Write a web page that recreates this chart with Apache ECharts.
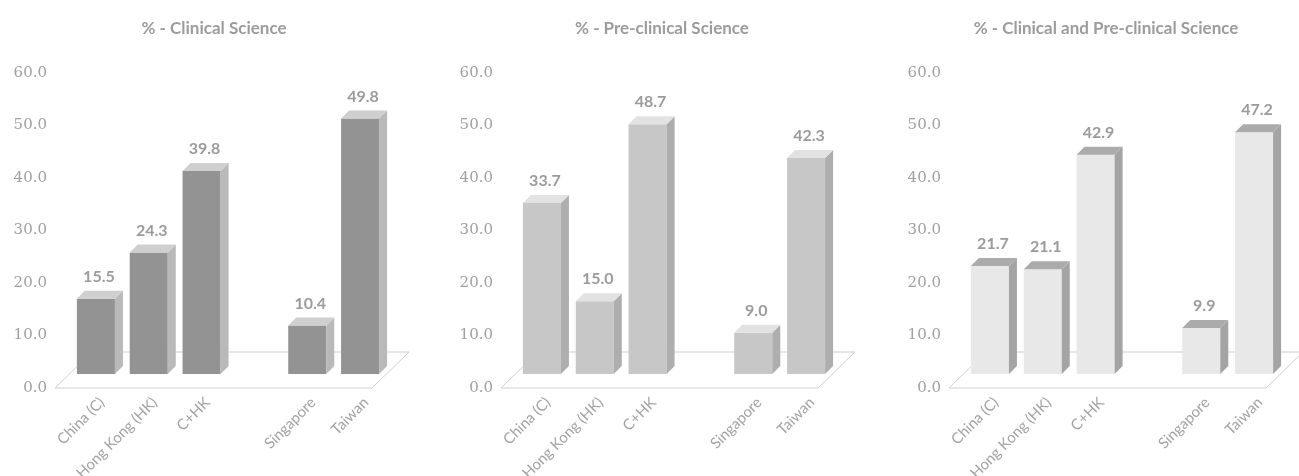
<!DOCTYPE html>
<html>
<head>
<meta charset="utf-8">
<script src="https://cdn.jsdelivr.net/npm/echarts@6/dist/echarts.min.js"></script>
<style>
  html, body { margin: 0; padding: 0; background: #fff; }
  #chart { width: 1299px; height: 476px; }
</style>
</head>
<body>
<div id="chart"></div>
<script>
// categories (the empty one is the gap between C+HK and Singapore)
var categories = ['China (C)', 'Hong Kong (HK)', 'C+HK', '', 'Singapore', 'Taiwan'];
var yTicks = [0, 10, 20, 30, 40, 50, 60];

var titles = ['% - Clinical Science', '% - Pre-clinical Science', '% - Clinical and Pre-clinical Science'];
var clinical = [15.5, 24.3, 39.8, null, 10.4, 49.8];
var preclinical = [33.7, 15.0, 48.7, null, 9.0, 42.3];
var combined = [21.7, 21.1, 42.9, null, 9.9, 47.2];

// layout / look of each panel
var panels = [
  { data: clinical, left: 55, titleX: 209, front: '#939393', side: '#b9b9b9', top: '#cfcfcf' },
  { data: preclinical, left: 501, titleX: 657, front: '#c7c7c7', side: '#aeaeae', top: '#e2e2e2' },
  { data: combined, left: 949, titleX: 1101, front: '#e8e8e8', side: '#a4a4a4', top: '#ababab' }
];

var txtColor = '#a3a3a3';
var labelFont = 'Lato, "Open Sans", sans-serif';

function makeFloor() {
  return function (params, api) {
    var cs = params.coordSys;
    var x = cs.x, y = cs.y + cs.height, w = cs.width;
    return {
      type: 'polygon',
      shape: { points: [[x, y], [x + w, y], [x + w + 37, y - 36], [x + 37, y - 36]] },
      style: { fill: 'none', stroke: '#cfcfcf', lineWidth: 1 }
    };
  };
}

function makeBar(p) {
  return function (params, api) {
    var i = api.value(0), v = api.value(1);
    var base = api.coord([i, 0]);
    var topPt = api.coord([i, v]);
    var band = api.size([1, 0])[0];
    var w = band * 0.72;
    var cx = base[0] + 14.5;
    var x0 = cx - w / 2, x1 = cx + w / 2;
    var yb = base[1] - 14, yt = topPt[1] - 8;
    var d = 8;
    return {
      type: 'group',
      children: [
        { type: 'rect', shape: { x: x0, y: yt, width: w, height: yb - yt }, style: { fill: p.front } },
        { type: 'polygon', shape: { points: [[x1, yt], [x1 + d, yt - d], [x1 + d, yb - d], [x1, yb]] }, style: { fill: p.side } },
        { type: 'polygon', shape: { points: [[x0, yt], [x0 + d, yt - d], [x1 + d, yt - d], [x1, yt]] }, style: { fill: p.top } },
        { type: 'text', x: cx + 3, y: yt - 22,
          style: { text: v.toFixed(1), fill: '#9b9b9b', font: 'bold 16px ' + labelFont, align: 'center', verticalAlign: 'middle' } },
        { type: 'text', x: cx + 6, y: base[1] + 12, rotation: Math.PI / 4,
          style: { text: categories[i], fill: txtColor, font: '15px ' + labelFont, align: 'right', verticalAlign: 'middle' } }
      ]
    };
  };
}

var chart = echarts.init(document.getElementById('chart'), null, { renderer: 'canvas' });
var option = { animation: false, title: [], grid: [], xAxis: [], yAxis: [], series: [] };

panels.forEach(function (p, k) {
  option.title.push({
    text: titles[k], left: p.titleX, top: 15, textAlign: 'center',
    textStyle: { color: '#9c9c9c', fontSize: 17, fontWeight: 'bold', fontFamily: labelFont }
  });
  option.grid.push({ left: p.left, top: 73, width: 317, height: 315 });
  option.xAxis.push({
    type: 'category', gridIndex: k, data: categories, boundaryGap: true,
    axisLine: { show: false }, axisTick: { show: false }, axisLabel: { show: false }
  });
  option.yAxis.push({
    type: 'value', gridIndex: k, min: yTicks[0], max: yTicks[yTicks.length - 1], interval: 10,
    axisLine: { show: false }, axisTick: { show: false }, splitLine: { show: false },
    axisLabel: { margin: 8, color: '#a0a0a0', fontSize: 15, fontFamily: '"DejaVu Serif", serif',
      formatter: function (val) { return val.toFixed(1); } }
  });
  option.series.push({
    type: 'custom', xAxisIndex: k, yAxisIndex: k, z: 1,
    renderItem: makeFloor(), data: [[0, 0]], silent: true
  });
  var items = [];
  p.data.forEach(function (v, i) { if (v !== null) items.push([i, v]); });
  option.series.push({
    type: 'custom', xAxisIndex: k, yAxisIndex: k, z: 2,
    renderItem: makeBar(p), data: items
  });
});

chart.setOption(option);
</script>
</body>
</html>
